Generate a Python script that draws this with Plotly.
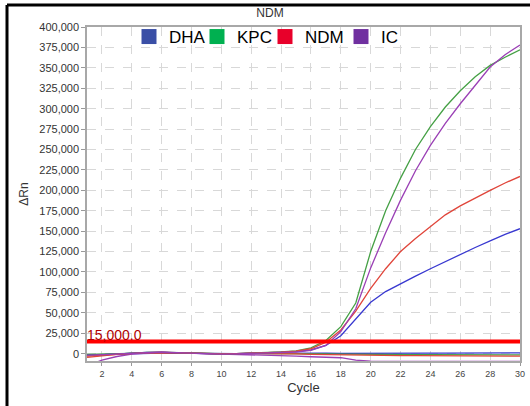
import plotly.graph_objects as go

cycles = list(range(1, 31))

# Amplifying samples
dha = [-2000, -1500, -500, 500, 1500, 1500, 1000, 500, 0, -500, 0, 500, 800, 1500, 2500,
       4500, 10000, 22000, 42000, 63000, 76000, 86000, 95000, 104000, 113000, 122000,
       130000, 138000, 146000, 153000]
kpc = [-2500, -1500, -300, 800, 1500, 1800, 1200, 600, 0, -300, 0, 500, 1000, 2000, 3500,
       7000, 16000, 33000, 62000, 125000, 175000, 215000, 250000, 278000, 302000, 322000,
       339000, 353000, 363000, 372000]
ndm = [-3000, -1800, -500, 600, 1200, 1500, 1000, 500, 0, -300, 0, 400, 900, 1800, 3000,
       6000, 14000, 29000, 52000, 80000, 104000, 125000, 141000, 156000, 170000, 181000,
       191000, 200000, 209000, 217000]
ic = [-2000, -1200, -200, 700, 1500, 2000, 1200, 500, 0, -500, -200, 300, 600, 1200, 2000,
      4000, 10000, 27000, 55000, 105000, 148000, 188000, 224000, 255000, 282000, 306000,
      328000, 351000, 366000, 378000]

# Negative (flat) samples
dha_neg = [-1500, -1000, -200, 500, 800, 800, 600, 300, 0, -200, 0, 300, 500, 600, 600,
           500, 500, 400, 300, 300, 400, 500, 500, 600, 700, 900, 800, 700, 800, 1000]
kpc_neg = [-1000, -600, 0, 600, 1000, 1200, 900, 400, 0, -300, -200, 200, 300, 300, 200,
           0, -200, -500, -800, -1000, -1000, -1100, -1200, -1200, -1300, -1200, -1300,
           -1400, -1400, -1500]
ndm_neg = [-4500, -2500, -800, 300, 800, 1000, 700, 300, 0, -300, -300, 0, 100, 0, -300,
           -800, -1200, -1500, -1800, -2000, -2200, -2400, -2500, -2600, -2700, -2800,
           -2900, -3000, -3000, -3000]
ic_neg = [-15000, -8000, -3500, -500, 800, 1500, 1000, 500, 0, -500, -500, -700, -1200,
          -2000, -3000, -3800, -4300, -5000, -8000, -9300, -9500, -9500, -9500, -9500,
          -9500, -9500, -9500, -9500, -9500, -9500]

threshold = 15000
threshold_label = "15,000.0"
y_ticks = list(range(0, 400001, 25000))
x_ticks = list(range(2, 31, 2))

names = ["DHA", "KPC", "NDM", "IC"]
legend_colors = ["#3a4fa6", "#00b050", "#e8002a", "#7030a0"]
line_colors = ["#3838d0", "#45a045", "#e0453a", "#9a3fb5"]
legend_widths = [23, 23, 31, 16]

fig = go.Figure()

series = [dha, kpc, ndm, ic]
negs = [dha_neg, kpc_neg, ndm_neg, ic_neg]
for vals, col in zip(negs, line_colors):
    fig.add_trace(go.Scatter(x=cycles, y=vals, mode="lines",
                             line=dict(color=col, width=1.3), showlegend=False,
                             hoverinfo="skip"))
for vals, col in zip(series, line_colors):
    fig.add_trace(go.Scatter(x=cycles, y=vals, mode="lines",
                             line=dict(color=col, width=1.3), showlegend=False))

# Threshold line
fig.add_trace(go.Scatter(x=[1, 30], y=[threshold, threshold], mode="lines",
                         line=dict(color="#ff0000", width=4), showlegend=False,
                         hoverinfo="skip"))

# Legend entries (square swatches)
for n, c, lw in zip(names, legend_colors, legend_widths):
    fig.add_trace(go.Scatter(x=[None], y=[None], mode="markers", name=n,
                             legendwidth=lw,
                             marker=dict(symbol="square", size=15, color=c)))

fig.add_annotation(x=1, y=threshold, xref="x", yref="y", text=threshold_label,
                   showarrow=False, xanchor="left", yanchor="bottom", yshift=-4,
                   xshift=-2,
                   font=dict(size=14, color="#b00000", family="Liberation Sans"))

W, H = 530, 406
ml, mr, mt, mb = 87, 10, 27, 45
pw, ph = W - ml - mr, H - mt - mb


def px2paper(px, py):
    return (px - ml) / pw, (H - mb - py) / ph


x0, y0 = px2paper(7, 406)
x1, y1 = px2paper(7, 5)
x2, y2 = px2paper(530, 5)
fig.add_shape(type="line", xref="paper", yref="paper", x0=x0, y0=y0, x1=x1, y1=y1,
              line=dict(color="black", width=3))
fig.add_shape(type="line", xref="paper", yref="paper", x0=x1, y0=y1, x1=x2, y1=y2,
              line=dict(color="black", width=3))

lx, ly = px2paper(129, 19)

fig.update_layout(
    width=W, height=H,
    margin=dict(l=ml, r=mr, t=mt, b=mb, autoexpand=False),
    paper_bgcolor="white", plot_bgcolor="white",
    font=dict(family="Liberation Sans", color="#333333"),
    title=dict(text="NDM", x=(270) / W, xanchor="center", y=1 - 13 / H, yanchor="middle",
               font=dict(size=12, color="#333333")),
    legend=dict(orientation="h", x=lx, xanchor="left", y=ly, yanchor="top",
                font=dict(size=17, color="black"), bgcolor="rgba(0,0,0,0)",
                itemwidth=30, tracegroupgap=0),
    xaxis=dict(range=[1, 30], tickvals=x_ticks, ticks="outside", ticklen=3,
               tickcolor="#999999", tickfont=dict(size=9, color="#444444"),
               showgrid=True, gridcolor="#d8d8d8", griddash="dash", gridwidth=1,
               showline=True, linecolor="#a8a8a8", linewidth=1.5, mirror=True,
               zeroline=False, automargin=False,
               title=dict(text="Cycle", font=dict(size=13, color="#333333"), standoff=5)),
    yaxis=dict(range=[-9000, 400000], tickvals=y_ticks, tickformat=",d",
               ticks="outside", ticklen=4, tickcolor="#999999",
               tickfont=dict(size=11, color="#333333"),
               showgrid=True, gridcolor="#d8d8d8", griddash="dash", gridwidth=1,
               showline=True, linecolor="#a8a8a8", linewidth=1.5, mirror=True,
               zeroline=False, automargin=False,
               title=dict(text="ΔRn", font=dict(size=12, color="#333333"), standoff=8)),
)

fig.write_html("out.html")
